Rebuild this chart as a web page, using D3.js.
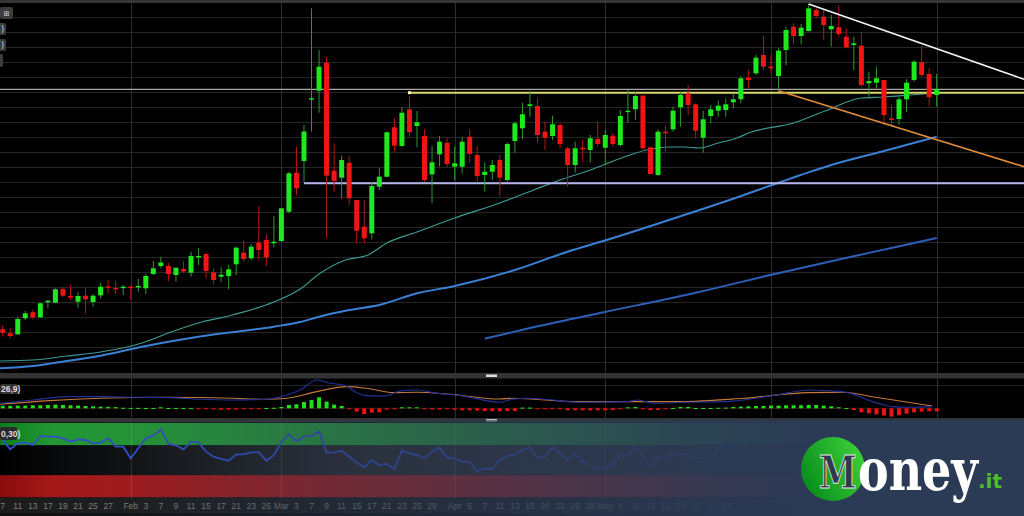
<!DOCTYPE html>
<html><head><meta charset="utf-8">
<script src="https://cdn.jsdelivr.net/npm/d3@7"></script>
<style>html,body{margin:0;padding:0;background:#000;overflow:hidden}</style>
</head><body><svg id="c" width="1024" height="516"></svg>
<script>
// ---------- data (price units) ----------
const opens=[70.7,66.7,65.7,81.7,87.7,82.7,97.7,97.3,111,104,
98.3,104.3,98,104.7,113.7,112,112.3,113.3,112.7,111.7,
126,134,134,125,131,127.3,142.7,146,127.7,123.3,
124,135.7,147.3,141.7,157.3,160,156.7,159,188.3,227.3,
239,300.3,309.3,337.3,229.3,222.3,237.3,200,173.3,166.7,
213.3,223.3,272.7,254,290.7,274,264,225.7,245.7,257.3,
233.3,233.3,263.3,245,225,228.3,240,220,259,271.7,
294,294,268.3,264,275,251.7,235,252.3,250,261,
252.3,264.3,255,288,290.7,304.3,252.7,225,268.3,270.7,
292.7,306.7,295.7,262.3,284,289.3,290,297.7,300.7,322.3,
326.7,345,333.3,324,350,373.3,364,369,390,383.3,
370.7,372.7,363.3,355,354.3,316.7,317.3,320,281.7,281,
300.7,320,337.7,326,305];
const closes=[67.3,64,81,86.7,82.7,96.7,99.3,110.7,104.3,102.7,
104,100.7,104.3,113.3,112.3,111,113.3,112,114,124,
131.7,137.5,126,132.3,128.5,144,144,129,120,125.3,
130.7,152.3,141,153.3,150,142.7,158.3,191.7,226.7,211.7,
268.5,301.7,333.3,224.3,219,240,201.7,169.3,161.7,214,
223.3,267.7,254.3,287.3,267.7,277.7,220,237.7,258.3,236,
236.7,258.3,246,224,228.3,235,222.3,256,276.7,285.7,
295.7,265,262.3,275.7,256,235,251.7,250.7,261.7,256,
265,256,284,289.3,304,251.7,226,268.3,266.7,289.3,
305,295,269.3,280.7,290.7,294.3,295.7,300.7,321.7,320,
342.3,333.3,331.7,349.3,370,364,372.3,391.7,384,375,
374,366,352.7,356.7,315,319,321.7,285,280,300.7,
317.3,338.3,325,302.7,310.7];
const highs=[75,71.7,82.7,89,90,97.3,100,111.7,112.7,115,
107.7,111.7,105.7,117.3,120,119,115,115,121,126,
139,143.3,137.3,132.3,139,148.3,151.7,147.3,131.7,132.7,
135,153.3,159.3,156,194,166,184,192,228.3,253.3,
275,391.7,350,343.3,256.7,244.3,244,200,200,218.3,
231.7,268.3,281.7,292.7,304,289,270.7,254,264,262,
253.3,263.3,271,254,237.7,240,245,257.3,278.3,297.3,
309,301.7,278.3,284.3,276.7,253.3,258.3,260,265,278.3,
270,266.7,290,310,308.3,305,253.3,270.7,274,293.3,
308.3,315,296.7,289.3,295,299.3,301.7,306.7,324,330,
345,364,345,351.7,373.3,376.7,376,396,391.7,390,
385,395,371.7,363.3,368.3,328.3,333.3,320,295,303.3,
320.7,340,354,331.7,326];
const lows=[63.3,61.7,65,80,80.7,82.3,91.7,96.7,103.3,100,
92.3,86.7,93.3,101.7,106.7,105.7,105,100,108.3,106,
125,131.7,119,118.3,126.7,123.3,135,121.7,116,118.3,
110.7,125,138.3,140,140,134,152.7,158,186.7,205,
218.3,268.3,287.3,161.7,208.3,201.7,195,156.7,156.7,160.7,
210,222.7,248.3,253.3,263.3,252.7,218.3,196.7,233.3,233,
220,226.7,237.3,218.3,208.3,220,203.3,218.3,247.3,260.7,
283.3,257.3,250,260,251.7,213.3,227.3,238.3,237.3,253.3,
235,253.3,253.3,277.3,280,250,226,224,248.3,268.3,
273.3,285,261.7,247.3,276.7,283.3,283.3,291.7,296.7,311.7,
325,330,326.7,309.3,335,355.7,355.7,368.3,381.7,360,
353.3,363.3,351.7,330,313.3,301.7,311.7,275,273.3,275,
288.3,318.3,323.3,294,293.3];

// moving averages: [candle index, value]
const maShort=[[-0.4,39],[4,40],[8.5,44],[13,48],[18.5,57],[22,67],[26,77],[30.5,85],[36,98],[39.5,111],[42,126],[45.5,140],[48.5,145],[51,157],[55,168],[60,182],[66,197],[70.5,210],[74,220],[78,230],[82.5,243],[85.5,250],[88.5,253],[90.5,253],[92.5,252],[95,257],[97.5,262],[99,267],[105,277],[109.5,290],[114,302],[117,303],[120.5,305],[124,307]];
const maMid=[[-0.4,31.7],[4,34],[8.5,39],[13,44.3],[18.5,53.3],[26,63.3],[36,73.3],[39.5,78],[42,83.3],[46,90],[50,95],[55,106.7],[60,114],[68,130],[75,148.3],[80.5,160.7],[92.5,190],[96.5,200],[103,217.3],[110,235],[117.5,250],[124,263.3]];
const maLong=[[64,61.3],[70,72],[79.3,87],[92.6,108.3],[101.9,125],[112.5,143],[119.2,154],[124,162]];

// horizontal levels and trend lines: [index, price]
const levelGrey=310.7;
const levelYellow={from:54,price:307.3};
const levelLavender={from:40,price:216.7};
const trendWhite=[[107,396],[135.6,320.7]];
const trendOrange=[[103,309.3],[135.6,233.3]];

// MACD
const macdHist=[2.5,2.5,2.7,2.7,3,3,3.3,3.7,3.3,3,2.7,2.3,2,1.7,1.5,1.2,
0.5,0.4,0.4,0.3,0.3,1,0.3,0.2,0.2,0.1,-0.2,-0.5,
-1.2,-1.5,-1.5,-1.3,-1,-0.3,-0.3,0.3,0.5,
1.3,3.3,4,6.3,8.3,11,6.7,3.7,2.3,-1,
-3.3,-5.7,-4.3,-4,-1.3,-0.7,1,1,1,
-1,-1.3,-1.3,-1,-1.5,-2,-2,-2.3,-2.7,-2.7,-3,-2.7,
-2.7,0.7,0.7,-0.3,-0.3,-0.3,-0.5,
-2,-2,-2,-2,-2,-2,-1.7,
-0.3,1,1.3,-1,-1.7,-1.7,-1,0.3,1.3,1.3,
0.3,0.3,0.3,0.5,0.7,
1.3,1.7,2,2.3,2.3,2.7,2.7,3,3,3,3.3,3.3,2.7,2,1,0.3,
-1.7,-4,-5,-6,-7.3,-8.3,-7,-5.3,-4,-3.3,-3,-3];
const macdLine=[[-0.4,5],[4,8.3],[8.5,11.7],[13,11.7],[17.3,11],[21.8,10.7],[26.2,9],[30.6,8.3],[35,9],[37.7,13.3],[39.5,18.3],[41.7,28.3],[43.5,25],[45.3,23.3],[47,15.7],[48.3,12.7],[50.6,12.3],[52.8,17.3],[55,18.3],[57.2,15.7],[61.6,11.7],[66,6],[67.6,9],[70,10],[72,9],[76.5,6],[83,6.7],[84.3,8.3],[86.5,5],[90.4,6],[96.1,6.7],[102.7,13.3],[107.1,18.3],[111.5,16.7],[115.9,5.7],[118.1,1.7],[120.3,1],[123.4,1.7]];
const macdSignal=[[-0.4,4],[6.3,7.7],[13,10],[21.8,11],[30.6,10],[35,9],[37.7,10],[41.7,16.7],[45.7,21.7],[48.3,20],[51.9,15.7],[55,16],[59.4,14],[66,9.3],[67.6,10],[76.5,6.7],[90,6.7],[98.3,10],[107,15.7],[111.5,16],[115.9,11],[123.4,2.3]];

// RSI
const rsi=[77.2,64.7,72.7,73.6,70.5,82.6,81.6,81.6,79.4,74.9,78.1,77.2,72.7,73.6,79.4,68.2,68.2,52.6,66,79.4,
83,91.5,71.8,70,64.7,74.9,74.0,61.5,54.8,51.7,49.4,57.9,57.9,60.6,60.6,49.4,57.0,74.9,84.8,75.8,
81.7,82.6,88.4,60.2,60.6,62.9,54.8,46.8,40.5,50.3,43.6,45,38.3,62.9,59.3,57,52.6,61.5,66.9,53.9,
52.6,48.1,47.7,35.6,39.2,38.3,50.3,55.7,58,63.8,67.3,52.6,54.8,67.3,59.3,50.3,59.3,48.1,43.6,39.2,
39.2,45.9,57,55.7,69.1,55.7,41.4,53.9,51.2,58.4,59.3,57,48.1,48.1,48.1,63.8,74.9,70.5,72.7,66];

// date axis
const dateTicks=[[0,"7"],[2,"11"],[4,"13"],[6,"17"],[8,"19"],[10,"21"],[12,"25"],[14,"27"],[17,"Feb"],[19,"3"],[21,"7"],[23,"9"],[25,"11"],[27,"15"],[29,"17"],[31,"21"],[33,"23"],[35,"25"],[37,"Mar"],[39,"3"],[41,"7"],[43,"9"],[45,"11"],[47,"15"],[49,"17"],[51,"21"],[53,"23"],[55,"25"],[57,"29"],[60,"Apr"],[62,"5"],[64,"7"],[66,"11"],[68,"13"],[70,"15"],[72,"20"],[74,"22"],[76,"26"],[78,"28"],[80,"May"],[82,"4"],[84,"6"],[86,"10"],[88,"12"],[90,"14"],[92,"18"],[94,"20"],[96,"24"]];
const monthIdx=[17,37,60,80,102,124];
const gridPrices=d3.range(38,399,15);

// ---------- drawing ----------
const svg=d3.select('#c');
const x=d3.scaleLinear().domain([0,124]).range([2.7,936.7]);
const y=d3.scaleLinear().domain([27,400]).range([373,0]);
const ym=d3.scaleLinear().domain([-10,30]).range([418.3,378.3]);
const yr=d3.scaleLinear().domain([0,100]).range([497.5,423]);

const defs=svg.append('defs');
defs.append('clipPath').attr('id','main').append('rect').attr('x',0).attr('y',3).attr('width',1024).attr('height',370);
const ov=defs.append('linearGradient').attr('id','ov').attr('x1',0).attr('x2',1).attr('y1',0).attr('y2',0);
[[0,0],[0.12,0.08],[0.3,0.4],[0.5,0.68],[0.68,0.9],[0.8,1],[1,1]].forEach(s=>ov.append('stop').attr('offset',s[0]).attr('stop-color','#2b3a55').attr('stop-opacity',s[1]));
const gc=defs.append('linearGradient').attr('id','gc').attr('x1',0).attr('x2',1).attr('y1',0.7).attr('y2',0.2);
gc.append('stop').attr('offset',0).attr('stop-color','#078c1c');
gc.append('stop').attr('offset',1).attr('stop-color','#3fd23a');
const gb=defs.append('linearGradient').attr('id','gb').attr('x1',0).attr('x2',1);
gb.append('stop').attr('offset',0).attr('stop-color','#0b7e1c');
gb.append('stop').attr('offset',0.05).attr('stop-color','#229a33');
gb.append('stop').attr('offset',1).attr('stop-color','#35a845');
const rb=defs.append('linearGradient').attr('id','rb').attr('x1',0).attr('x2',1);
rb.append('stop').attr('offset',0).attr('stop-color','#8a0c0c');
rb.append('stop').attr('offset',0.05).attr('stop-color','#a81818');
rb.append('stop').attr('offset',1).attr('stop-color','#b02a2a');
const mb=defs.append('linearGradient').attr('id','mb').attr('x1',0).attr('x2',1);
mb.append('stop').attr('offset',0).attr('stop-color','#000');
mb.append('stop').attr('offset',0.35).attr('stop-color','#2a2a2a');
mb.append('stop').attr('offset',1).attr('stop-color','#3a3a3a');

svg.append('rect').attr('width',1024).attr('height',516).attr('fill','#000');
svg.append('rect').attr('width',1024).attr('height',3).attr('fill','#353535');

// main panel
const gm=svg.append('g').attr('clip-path','url(#main)');
gm.selectAll('line.hg').data(gridPrices).join('line').attr('x1',0).attr('x2',1024)
  .attr('y1',d=>y(d)+0.5).attr('y2',d=>y(d)+0.5).attr('stroke','#262626').attr('stroke-width',1);
gm.selectAll('line.vg').data(monthIdx).join('line').attr('x1',d=>Math.round(x(d))+0.5).attr('x2',d=>Math.round(x(d))+0.5)
  .attr('y1',3).attr('y2',373).attr('stroke','#2e2e2e');

const line=d3.line().x(d=>x(d[0])).y(d=>y(d[1])).curve(d3.curveMonotoneX);
gm.append('path').attr('d',line(maShort)).attr('fill','none').attr('stroke','#3d9a92').attr('stroke-width',1.2);
gm.append('path').attr('d',line(maMid)).attr('fill','none').attr('stroke','#3b80d4').attr('stroke-width',2);
gm.append('path').attr('d',line(maLong)).attr('fill','none').attr('stroke','#2e5fb8').attr('stroke-width',2);

// level lines
gm.append('line').attr('x1',0).attr('x2',1024).attr('y1',y(levelGrey)).attr('y2',y(levelGrey)).attr('stroke','#a8a8a8').attr('stroke-width',1.3);
gm.append('line').attr('x1',x(levelYellow.from)).attr('x2',1024).attr('y1',y(levelYellow.price)).attr('y2',y(levelYellow.price)).attr('stroke','#d8d86a').attr('stroke-width',2);
gm.append('rect').attr('x',x(levelYellow.from)-1.5).attr('y',y(levelYellow.price)-1.5).attr('width',3).attr('height',3).attr('fill','#ffffb0');
gm.append('line').attr('x1',x(levelLavender.from)).attr('x2',1024).attr('y1',y(levelLavender.price)).attr('y2',y(levelLavender.price)).attr('stroke','#b4b4f0').attr('stroke-width',2);

// candles
const candles=opens.map((o,i)=>({i,o,h:highs[i],l:lows[i],c:closes[i]}));
gm.selectAll('line.wk').data(candles).join('line')
  .attr('x1',d=>x(d.i)).attr('x2',d=>x(d.i)).attr('y1',d=>y(d.h)).attr('y2',d=>y(d.l))
  .attr('stroke',d=>d.c>=d.o?'#2e9a2e':'#b81616').attr('stroke-width',1);
gm.selectAll('rect.bd').data(candles).join('rect')
  .attr('x',d=>x(d.i)-2.5).attr('width',5)
  .attr('y',d=>y(Math.max(d.o,d.c)))
  .attr('height',d=>Math.max(1.4,Math.abs(y(d.o)-y(d.c))))
  .attr('fill',d=>d.c>=d.o?'#1ee81e':'#f01414');

// trend lines
const tl=d3.line().x(d=>x(d[0])).y(d=>y(d[1]));
gm.append('path').attr('d',tl(trendWhite)).attr('stroke','#f2f2f2').attr('stroke-width',1.6).attr('fill','none');
gm.append('path').attr('d',tl(trendOrange)).attr('stroke','#e08a3a').attr('stroke-width',1.6).attr('fill','none');

// separators
svg.append('rect').attr('x',0).attr('y',373).attr('width',1024).attr('height',5.5).attr('fill','#333');
svg.append('rect').attr('x',486).attr('y',374.5).attr('width',11).attr('height',2.5).attr('fill','#dcdcdc');

// MACD panel
const gmac=svg.append('g');
gmac.append('line').attr('x1',0).attr('x2',1024).attr('y1',385.5).attr('y2',385.5).attr('stroke','#222');
gmac.selectAll('line.vg').data(monthIdx).join('line').attr('x1',d=>Math.round(x(d))+0.5).attr('x2',d=>Math.round(x(d))+0.5)
  .attr('y1',378).attr('y2',418).attr('stroke','#2e2e2e');
gmac.append('line').attr('x1',0).attr('x2',x(124)).attr('y1',ym(0)).attr('y2',ym(0)).attr('stroke','#3a1a10').attr('stroke-width',1);
gmac.selectAll('rect.h').data(macdHist.map((v,i)=>({i,v}))).join('rect')
  .attr('x',d=>x(d.i)-2).attr('width',4)
  .attr('y',d=>d.v>=0?ym(d.v):ym(0))
  .attr('height',d=>Math.max(1,Math.abs(ym(d.v)-ym(0))))
  .attr('fill',d=>d.v>=0?'#1fe01f':'#ee1212');
const lm=d3.line().x(d=>x(d[0])).y(d=>ym(d[1])).curve(d3.curveMonotoneX);
gmac.append('path').attr('d',lm(macdSignal)).attr('fill','none').attr('stroke','#c4783c').attr('stroke-width',1.1);
gmac.append('path').attr('d',lm(macdLine)).attr('fill','none').attr('stroke','#23309a').attr('stroke-width',1.1);
svg.append('rect').attr('x',0).attr('y',384).attr('width',18).attr('height',10).attr('rx',2).attr('fill','#333');
svg.append('text').attr('x',1).attr('y',392).attr('fill','#ddd').attr('font-family','Liberation Sans').attr('font-size',8.5).attr('font-weight','bold').text('26,9)');

svg.append('rect').attr('x',0).attr('y',418).attr('width',1024).attr('height',4.5).attr('fill','#333');
svg.append('rect').attr('x',486).attr('y',419.2).attr('width',11).attr('height',2.5).attr('fill','#dcdcdc');

// RSI panel
svg.append('rect').attr('x',0).attr('y',yr(100)).attr('width',1024).attr('height',yr(70)-yr(100)).attr('fill','url(#gb)');
svg.append('rect').attr('x',0).attr('y',yr(70)).attr('width',1024).attr('height',yr(30)-yr(70)).attr('fill','url(#mb)');
svg.append('rect').attr('x',0).attr('y',yr(30)).attr('width',1024).attr('height',yr(0)-yr(30)).attr('fill','url(#rb)');
svg.append('rect').attr('x',0).attr('y',yr(0)).attr('width',1024).attr('height',516-yr(0)).attr('fill','#1c1c1c');
svg.selectAll('line.rv').data(monthIdx).join('line').attr('x1',d=>Math.round(x(d))+0.5).attr('x2',d=>Math.round(x(d))+0.5)
  .attr('y1',423).attr('y2',498).attr('stroke','rgba(255,255,255,0.12)');
const lr=d3.line().x((d,i)=>x(i)).y(d=>yr(d));
svg.append('path').attr('d',lr(rsi)).attr('fill','none').attr('stroke','#3350cc').attr('stroke-width',1.8);
svg.append('g').selectAll('text').data(dateTicks).join('text')
  .attr('x',d=>x(d[0])).attr('y',509).attr('text-anchor','middle').attr('fill','#808080')
  .attr('font-family','Liberation Sans').attr('font-size',8.5).text(d=>d[1]);
svg.append('rect').attr('x',0).attr('y',513).attr('width',1024).attr('height',3).attr('fill','#111');

svg.append('rect').attr('x',0).attr('y',427).attr('width',17).attr('height',13).attr('rx',2).attr('fill','#2a2a2a');
svg.append('text').attr('x',1).attr('y',436.5).attr('fill','#ddd').attr('font-family','Liberation Sans').attr('font-size',8.5).attr('font-weight','bold').text('0,30)');

// overlay banner
svg.append('rect').attr('x',0).attr('y',420).attr('width',1024).attr('height',96).attr('fill','url(#ov)');

// top-left widgets
svg.append('rect').attr('x',0).attr('y',7).attr('width',13).attr('height',12).attr('rx',2).attr('fill','#3c3c3c');
svg.append('text').attr('x',6.5).attr('y',16).attr('text-anchor','middle').attr('fill','#ddd').attr('font-family','DejaVu Sans').attr('font-size',7).text('⊞');
[23,39].forEach(yy=>{
  svg.append('rect').attr('x',-3).attr('y',yy).attr('width',9).attr('height',12).attr('rx',2).attr('fill','#3c3c3c');
  svg.append('text').attr('x',1).attr('y',yy+9).attr('fill','#ddd').attr('font-family','DejaVu Sans').attr('font-size',8).text(')');
});
svg.append('rect').attr('x',-3).attr('y',54).attr('width',6).attr('height',13).attr('rx',2).attr('fill','#3c3c3c');

// logo
const lg=svg.append('g');
lg.append('circle').attr('cx',833).attr('cy',469).attr('r',32).attr('fill','url(#gc)');
lg.append('text').attr('transform','translate(819,488) scale(1,1.3)').attr('font-family','DejaVu Serif').attr('font-weight','bold').attr('font-size',34)
  .attr('fill','#2c3a4c').attr('stroke','#e8e8e8').attr('stroke-width',0.7).text('M');
lg.append('text').attr('transform','translate(858,490) scale(1,1.25)').attr('font-family','DejaVu Serif').attr('font-weight','bold').attr('font-size',46)
  .attr('fill','#ffffff').text('oney');
lg.append('text').attr('x',978).attr('y',488).attr('font-family','DejaVu Sans').attr('font-weight','bold').attr('font-size',20)
  .attr('fill','#4cbf24').text('.it');
</script>
</body></html>
